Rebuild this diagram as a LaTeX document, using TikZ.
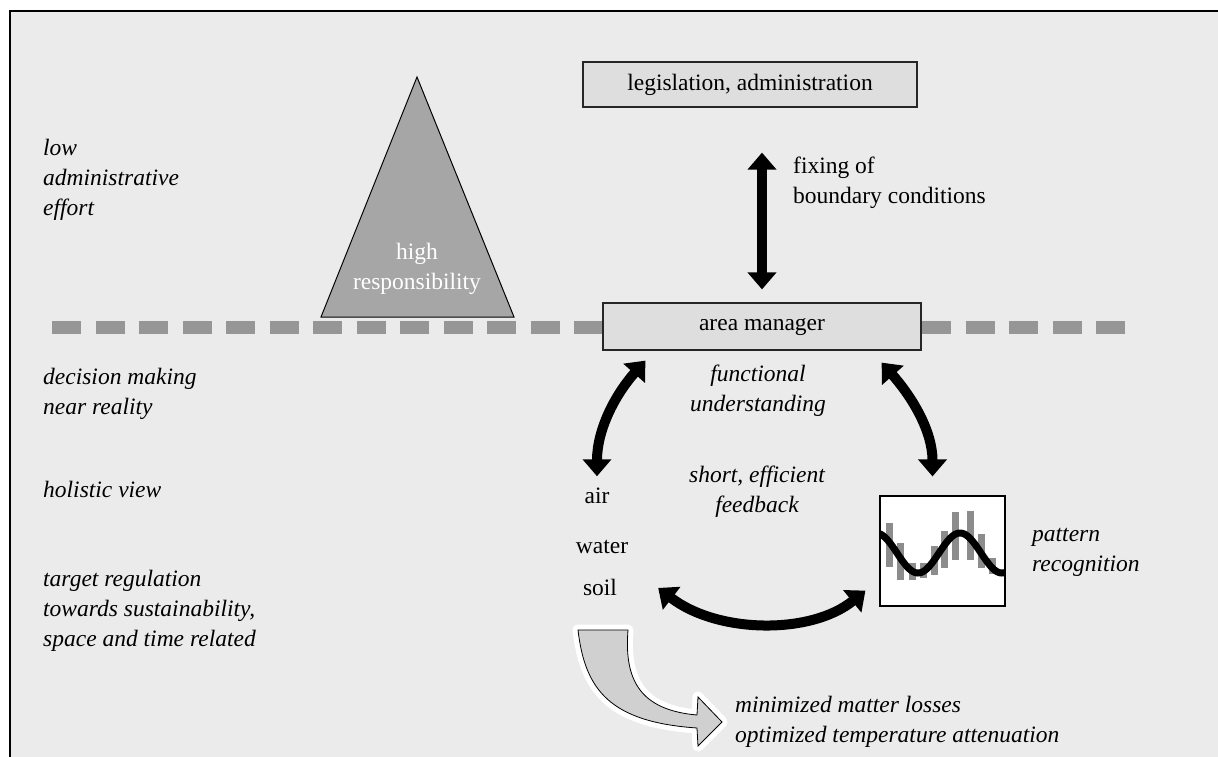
\documentclass[tikz,border=0pt]{standalone}
\usepackage{fontspec}
\setmainfont{Liberation Serif}
\usetikzlibrary{arrows.meta, positioning}
\definecolor{bggray}{RGB}{235,235,235}
\definecolor{boxgray}{RGB}{222,222,222}
\definecolor{trigray}{RGB}{166,166,166}
\definecolor{dashgray}{RGB}{150,150,150}
\definecolor{bargray}{RGB}{140,140,140}
\definecolor{bendgray}{RGB}{208,208,208}

\begin{document}
\begin{tikzpicture}[x=1pt, y=-1pt,
	every node/.style={font=\fontsize{23.5}{30}\selectfont, inner sep=0pt},
	txt/.style={align=left, anchor=west, font=\fontsize{23.5}{30}\selectfont\itshape},
	box/.style={draw=black!85, line width=1.2pt, fill=boxgray},
	dbl/.style={line width=10pt, {Triangle[width=28pt,length=17pt]}-{Triangle[width=28pt,length=17pt]}}]

	\clip (0,0) rectangle (1218,756);
	\fill[white] (0,0) rectangle (1218,756);
	\draw[line width=2pt, fill=bggray] (10,11) rectangle (1230,770);

	% left column
	\node[txt] (low) at (43,179.5) {low\\administrative\\effort};
	\node[txt] (dec) at (43,394) {decision making\\near reality};
	\node[txt, anchor=base west] (hol) at (43,497) {holistic view};
	\node[txt] (tgt) at (43,611) {target regulation\\towards sustainability,\\space and time related};

	% responsibility
	\draw[fill=trigray, line width=1pt] (417,77) -- (514,317) -- (321,317) -- cycle;
	\node[text=white, align=center] (resp) at (417,269) {high\\responsibility};

	\draw[dashgray, line width=13pt, dash pattern=on 29pt off 14.5pt] (52,327) -- (1126,327);

	% boxes
	\node[box, minimum width=334pt, minimum height=45pt] (leg) at (750,84.5) {legislation, administration};
	\node[box, minimum width=318pt, minimum height=47pt] (am) at (762,326.5) {area manager};
	\node[align=left, anchor=west] (fix) at (793,183) {fixing of\\boundary conditions};

	\draw[dbl, shorten <=45pt, shorten >=13pt] (am.north |- leg.south) -- (am.north);

	\node[txt, align=center, anchor=center] (func) at (758,391) {functional\\understanding};
	\node[txt, align=center, anchor=center] (fb) at (757,492) {short, efficient\\feedback};

	\node[anchor=base] (air) at (597,503) {air};
	\node[anchor=base] (water) at (602,553) {water};
	\node[anchor=base] (soil) at (600,595) {soil};

	% pattern box
	\node[draw, line width=1.2pt, fill=white, minimum width=125pt, minimum height=110pt] (pat) at (942.5,551) {};
	\begin{scope}
		\clip (pat.south west) rectangle (pat.north east);
		\foreach \bx/\ya/\yb in {886/523/567, 897/543/580, 909/563/580, 920/563/578, 931/546/575,
			941/531/568, 952/512/560, 967/511/560, 978/534/568, 989/558/574}
			\fill[bargray] (\bx,\ya) rectangle (\bx+7,\yb);
		\draw[line width=7pt] plot[domain=876:1009, samples=90] (\x, {553-20*cos(4.2857*(\x-960))});
	\end{scope}
	\draw[line width=1.2pt] (pat.south west) rectangle (pat.north east);
	\node[txt] (patt) at (1032,552) {pattern\\recognition};

	% feedback arrows
	\draw[dbl] ([xshift=43pt,yshift=-10pt]am.south west) .. controls +(-31,35) and +(0,-46) .. ([yshift=11pt]air.north);
	\draw[dbl] ([xshift=-40pt,yshift=-12pt]am.south east) .. controls +(31,35) and +(0,-45) .. ([xshift=-10pt,yshift=19pt]pat.north);
	\draw[dbl] ([xshift=41pt,yshift=-1pt]soil.east) .. controls +(60,46) and +(-54,44) .. ([xshift=-14pt,yshift=16pt]pat.south west);

	% output arrow
	\draw[fill=bendgray, line width=0.8pt, preaction={draw=white, line width=11pt, line join=round}]
		(578,630) -- (628,630) .. controls (624,680) and (640,710) .. (697,715)
		-- (698,697) -- (722,722) -- (698,746) -- (697,728)
		.. controls (610,722) and (585,690) .. (578,630) -- cycle;
	\node[txt] (out) at (735,722) {minimized matter losses\\optimized temperature attenuation};
\end{tikzpicture}
\end{document}
